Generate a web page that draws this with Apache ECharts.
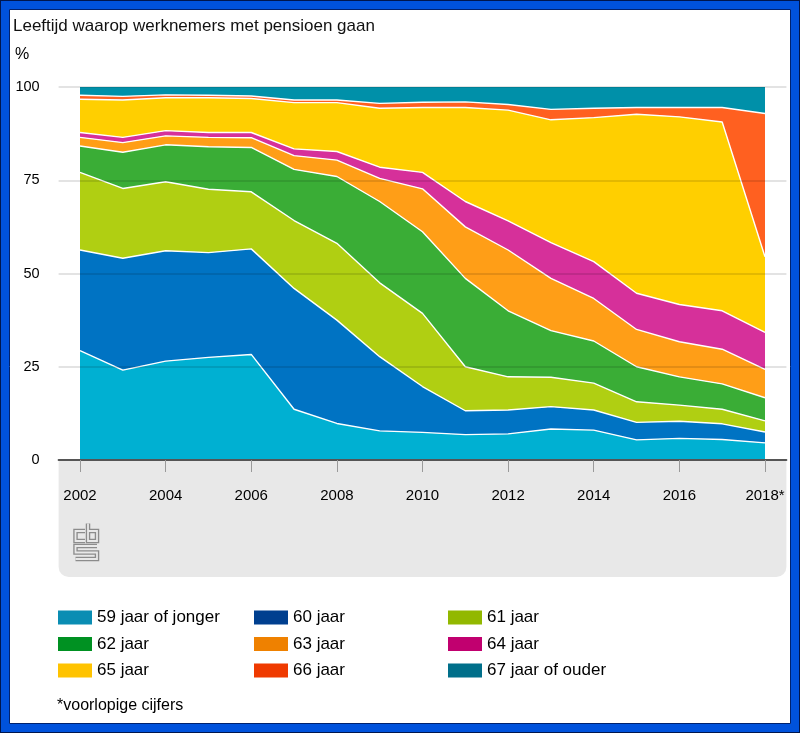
<!DOCTYPE html>
<html>
<head>
<meta charset="utf-8">
<script src="https://cdn.jsdelivr.net/npm/echarts@6/dist/echarts.min.js"></script>
<style>
html,body{margin:0;padding:0;background:#fff;}
#chart{width:800px;height:733px;}
</style>
</head>
<body>
<div id="chart"></div>
<script>
// Categories (x axis)
const years = ['2002','2003','2004','2005','2006','2007','2008','2009','2010','2011','2012','2013','2014','2015','2016','2017','2018*'];
// Y axis ticks
const yTicks = [0, 25, 50, 75, 100];

// Series values (% of employees retiring at each age)
const s59 = [29.3, 24.1, 26.5, 27.5, 28.3, 13.6, 9.8, 7.8, 7.4, 6.8, 7.0, 8.3, 8.0, 5.4, 5.8, 5.5, 4.6];
const s60 = [27.0, 30.0, 29.6, 28.1, 28.3, 32.4, 27.7, 19.9, 12.3, 6.4, 6.4, 6.0, 5.4, 4.7, 4.6, 4.2, 2.9];
const s61 = [20.8, 18.7, 18.5, 17.0, 15.3, 18.2, 20.6, 19.8, 19.6, 11.8, 8.9, 7.9, 7.2, 5.5, 4.3, 3.9, 3.0];
const s62 = [7.1, 9.7, 9.9, 11.4, 11.9, 13.7, 17.9, 21.8, 21.9, 23.7, 17.7, 12.5, 11.3, 9.4, 7.6, 6.8, 6.2];
const s63 = [2.3, 2.6, 2.4, 2.5, 2.6, 3.7, 4.4, 6.2, 11.5, 13.8, 16.3, 14.0, 11.4, 10.0, 9.4, 9.3, 7.6];
const s64 = [1.3, 1.4, 1.4, 1.3, 1.4, 1.8, 2.3, 3.0, 4.4, 6.8, 7.8, 9.6, 9.9, 9.7, 10.0, 10.3, 9.9];
const s65 = [8.9, 10.0, 8.8, 9.3, 9.1, 12.4, 13.1, 15.8, 17.4, 25.2, 29.7, 32.9, 38.6, 48.0, 50.3, 50.6, 20.3];
const s66 = [1.1, 1.0, 0.8, 0.7, 0.7, 0.7, 0.7, 1.3, 1.4, 1.5, 1.5, 2.8, 2.5, 1.8, 2.5, 3.9, 38.4];
const s67 = [2.2, 2.5, 2.1, 2.2, 2.4, 3.5, 3.5, 4.4, 4.1, 4.0, 4.7, 6.0, 5.7, 5.5, 5.5, 5.5, 7.1];

const names = ['59 jaar of jonger','60 jaar','61 jaar','62 jaar','63 jaar','64 jaar','65 jaar','66 jaar','67 jaar of ouder'];
const values = [s59, s60, s61, s62, s63, s64, s65, s66, s67];
const areaColors = ['#00b0d2','#0073c3','#b0cf12','#3aad36','#ff9e17','#d6309a','#ffcf00','#ff6020','#0090a9'];
const legendColors = ['#0a8db3','#003f8f','#92b800','#009122','#ef8100','#c1006f','#ffc300','#ef3a00','#006f8a'];

const FONT = '"Liberation Sans", Arial, sans-serif';

const series = names.map((n, i) => ({
  name: n,
  type: 'line',
  stack: 'total',
  data: values[i],
  symbol: 'none',
  showSymbol: false,
  smooth: false,
  z: 2,
  lineStyle: { color: '#ffffff', width: i === names.length - 1 ? 0 : 1.4 },
  areaStyle: { color: areaColors[i], opacity: 1 },
  itemStyle: { color: areaColors[i] },
  emphasis: { disabled: true }
}));

function legendCol(idx, left) {
  return {
    orient: 'vertical',
    left: left,
    top: 609,
    padding: 0,
    icon: 'rect',
    itemWidth: 34,
    itemHeight: 14,
    itemGap: 9.5,
    selectedMode: false,
    textStyle: { fontSize: 17, color: '#000', fontFamily: FONT, lineHeight: 17 },
    data: idx.map(i => ({ name: names[i], itemStyle: { color: legendColors[i] } }))
  };
}

function logoPath(pts) {
  return [
    { type: 'polyline', z: 1, shape: { points: pts }, style: { stroke: '#8c8c8c', lineWidth: 4.5, fill: null, lineJoin: 'miter' } },
    { type: 'polyline', z: 2, shape: { points: pts }, style: { stroke: '#e8e8e8', lineWidth: 1.8, fill: null, lineJoin: 'miter' } }
  ];
}

const chart = echarts.init(document.getElementById('chart'), null, { renderer: 'canvas' });
chart.setOption({
  animation: false,
  textStyle: { fontFamily: FONT },
  title: {
    text: 'Leeftijd waarop werknemers met pensioen gaan',
    left: 8, top: 13,
    textStyle: { fontSize: 17, fontWeight: 'normal', color: '#111', fontFamily: FONT }
  },
  grid: { left: 58.6, right: 13.6, top: 87, bottom: 273 },
  xAxis: {
    type: 'category',
    data: years,
    boundaryGap: true,
    z: 10,
    axisLine: { show: true, lineStyle: { color: '#555', width: 2 } },
    axisTick: { show: true, interval: 1, alignWithLabel: true, length: 12, lineStyle: { color: '#9a9a9a', width: 1 } },
    axisLabel: { interval: 1, margin: 28, fontSize: 15, color: '#000', fontFamily: FONT },
    splitLine: { show: false }
  },
  yAxis: {
    type: 'value',
    min: yTicks[0], max: yTicks[yTicks.length - 1], interval: 25,
    z: 5,
    axisLine: { show: false },
    axisTick: { show: false },
    axisLabel: { margin: 19, fontSize: 14.5, color: '#000', fontFamily: FONT },
    splitLine: { show: true, lineStyle: { color: 'rgba(0,0,0,0.15)', width: 1.5 } }
  },
  legend: [
    legendCol([0, 3, 6], 58),
    legendCol([1, 4, 7], 254),
    legendCol([2, 5, 8], 448)
  ],
  series: series,
  graphic: [
    { type: 'rect', z: -100, silent: true, shape: { x: 0, y: 0, width: 800, height: 733 }, style: { fill: '#0052dc', stroke: '#00164d', lineWidth: 2 } },
    { type: 'rect', z: -99, silent: true, shape: { x: 9.5, y: 9.5, width: 781, height: 714 }, style: { fill: '#ffffff', stroke: '#00226e', lineWidth: 1 } },
    { type: 'rect', z: -50, silent: true, shape: { x: 58.6, y: 461, width: 727.8, height: 116, r: [0, 0, 10, 10] }, style: { fill: '#e8e8e8' } },
    { type: 'text', z: 5, silent: true, left: 15, top: 47, style: { text: '%', fill: '#000', font: '16px ' + FONT } },
    { type: 'text', z: 5, silent: true, left: 57, top: 698, style: { text: '*voorlopige cijfers', fill: '#000', font: '16px ' + FONT } },
    { type: 'group', z: 5, silent: true, children: [].concat(
        logoPath([[85, 531], [75.5, 531], [75.5, 541], [85, 541]]),
        logoPath([[88, 523.5], [88, 541], [97, 541], [97, 531], [88, 531]]),
        logoPath([[97, 546], [75.5, 546], [75.5, 552.5], [97, 552.5], [97, 559], [75.5, 559]])
      ) }
  ]
});
</script>
</body>
</html>
